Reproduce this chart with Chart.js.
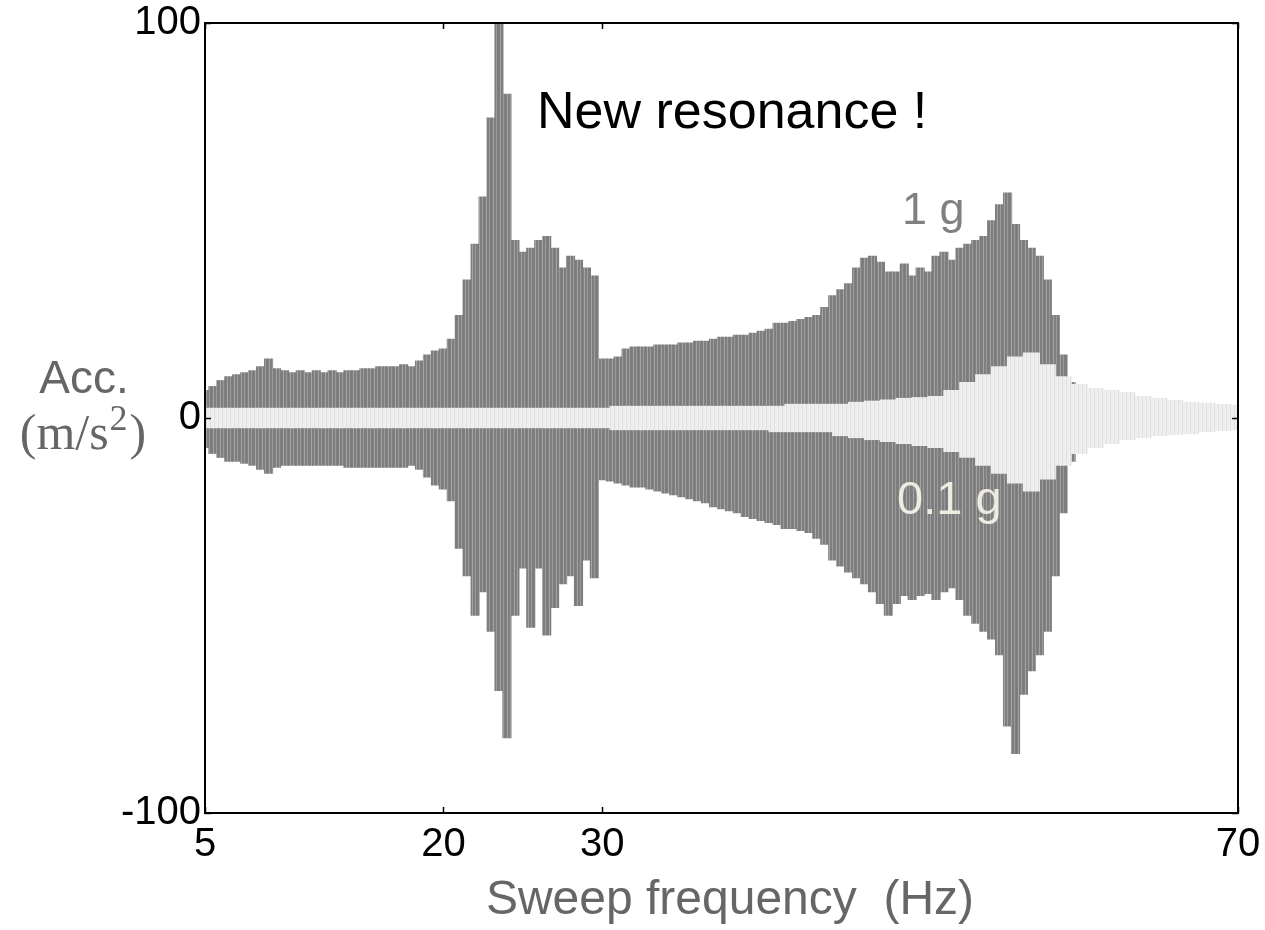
<!DOCTYPE html>
<html>
<head>
<meta charset="utf-8">
<script src="https://cdn.jsdelivr.net/npm/chart.js@4/dist/chart.umd.min.js"></script>
<style>
  body { margin: 0; background: #fff; }
  #sweepChart { display: block; }
</style>
</head>
<body>
<canvas id="sweepChart" width="1265" height="930"></canvas>
<script>
// 1 g sweep: envelope read every 0.5 Hz (stops near 59.5 Hz)
const freq1g = [
  5, 5.5, 6, 6.5, 7, 7.5, 8, 8.5, 9, 9.5,
  10, 10.5, 11, 11.5, 12, 12.5, 13, 13.5, 14, 14.5,
  15, 15.5, 16, 16.5, 17, 17.5, 18, 18.5, 19, 19.5,
  20, 20.5, 21, 21.5, 22, 22.5, 23, 23.5, 24, 24.5,
  25, 25.5, 26, 26.5, 27, 27.5, 28, 28.5, 29, 29.5,
  30, 30.5, 31, 31.5, 32, 32.5, 33, 33.5, 34, 34.5,
  35, 35.5, 36, 36.5, 37, 37.5, 38, 38.5, 39, 39.5,
  40, 40.5, 41, 41.5, 42, 42.5, 43, 43.5, 44, 44.5,
  45, 45.5, 46, 46.5, 47, 47.5, 48, 48.5, 49, 49.5,
  50, 50.5, 51, 51.5, 52, 52.5, 53, 53.5, 54, 54.5,
  55, 55.5, 56, 56.5, 57, 57.5, 58, 58.5, 59, 59.5
];
const hi1g = [
  7, 8, 9.5, 10.5, 11, 11.5, 12, 13, 15, 12.5,
  12, 11.5, 12, 11.5, 12, 11.5, 12, 11.5, 12, 12,
  12.5, 12.5, 13, 13, 13, 13.5, 13, 14.5, 16, 17,
  17.5, 20, 26, 35, 44, 56, 76, 100, 82, 45,
  42, 43, 45, 46, 43, 38, 41, 40, 38, 36,
  15, 15, 15.5, 17.5, 18, 18, 18, 18.5, 18.5, 18.5,
  19, 19, 19.5, 19.5, 20, 20.5, 20.5, 21, 21, 21.5,
  22, 22.5, 24, 24, 24.5, 25, 25.5, 26, 28, 31,
  32.5, 34, 38, 40.5, 41, 39.5, 37, 37, 39, 36,
  38, 37, 41, 42, 40, 43, 44, 45, 46, 50,
  54, 57, 49, 45, 43, 41, 35, 26, 16, 9
];
const lo1g = [
  -7.5, -9, -10, -11, -11, -11.5, -12, -13, -14, -12.5,
  -12, -12, -12, -12, -12, -12, -12, -12, -12.5, -12.5,
  -12.5, -12.5, -12.5, -12.5, -12.5, -12.5, -12, -13, -15, -17,
  -18, -21, -33, -40, -50, -44, -54, -69, -81, -50,
  -38, -53, -38, -55, -48, -42, -40, -47.5, -36, -40.5,
  -15.7, -16, -16.5, -17, -17.5, -17.5, -18, -18.5, -19, -19.5,
  -20, -20.5, -21, -21.5, -22.5, -23, -23.5, -24, -25, -25.5,
  -26, -26.5, -27, -28, -28, -28.5, -29, -30.5, -32, -36,
  -37.5, -39, -40.5, -42, -44, -47, -50, -47, -45, -46,
  -45, -44.5, -46, -44, -43, -46, -50, -52, -54, -56,
  -60, -78, -85, -70, -64, -60, -54, -40, -24, -11
];

// 0.1 g sweep: envelope read every 1 Hz
const freq01g = [
  5, 6, 7, 8, 9, 10, 11, 12, 13, 14, 15, 16, 17, 18, 19, 20, 21, 22, 23, 24, 25, 26,
  27, 28, 29, 30, 31, 32, 33, 34, 35, 36, 37, 38, 39, 40, 41, 42, 43, 44, 45, 46, 47, 48,
  49, 50, 51, 52, 53, 54, 55, 56, 57, 58, 59, 60, 61, 62, 63, 64, 65, 66, 67, 68, 69, 70
];
const hi01g = [
  2.5, 2.5, 2.5, 2.5, 2.5, 2.5, 2.5, 2.5, 2.5, 2.5, 2.5, 2.5, 2.5, 2.5, 2.5, 2.5, 2.5, 2.5, 2.5, 2.5, 2.5, 2.5,
  2.5, 2.5, 2.5, 2.5, 3, 3, 3, 3, 3, 3, 3, 3, 3, 3, 3, 3.5, 3.5, 3.5, 3.5, 4, 4.3, 4.6,
  5, 5.2, 5.5, 7, 9, 11, 13, 15.5, 16.5, 13.5, 10.5, 8.5, 7.5, 7, 6.5, 5.5, 5, 4.5, 4, 3.8, 3.5, 3.3
];
const lo01g = [
  -2.5, -2.5, -2.5, -2.5, -2.5, -2.5, -2.5, -2.5, -2.5, -2.5, -2.5, -2.5, -2.5, -2.5, -2.5, -2.5, -2.5, -2.5, -2.5, -2.5, -2.5, -2.5,
  -2.5, -2.5, -2.5, -2.5, -3, -3, -3, -3, -3, -3, -3, -3, -3, -3, -3.5, -3.5, -3.5, -3.5, -4.5, -5, -5.5, -6,
  -6.5, -7, -7.5, -8.5, -10, -12, -14, -16.5, -18.5, -15.5, -12, -9, -7.5, -6.5, -5.5, -5, -4.5, -4.2, -4, -3.5, -3.2, -3
];

const xTickValues = [5, 20, 30, 70];
const yTickValues = [-100, 0, 100];

document.addEventListener("DOMContentLoaded", function () {
  const canvas = document.getElementById("sweepChart");
  const ctx = canvas.getContext("2d");

  // thin vertical stripes so the bars read like a dense time trace
  function stripes(colors) {
    const c = document.createElement("canvas");
    c.width = colors.length;
    c.height = 1;
    const g = c.getContext("2d");
    colors.forEach(function (col, i) {
      g.fillStyle = col;
      g.fillRect(i, 0, 1, 1);
    });
    return ctx.createPattern(c, "repeat");
  }

  const darkFill = stripes(["#7f7f7f", "#7b7b7b", "#808080", "#a4a4a4", "#7d7d7d", "#7f7f7f", "#9a9a9a"]);
  const lightFill = stripes(["#eeeeee", "#f0f0f0", "#e0e0e0", "#efefef"]);

  const frameAndText = {
    id: "frameAndText",
    afterDatasetsDraw(chart) {
      const { ctx, chartArea: a, scales } = chart;
      ctx.save();
      ctx.strokeStyle = "#000";
      ctx.lineWidth = 2;
      ctx.strokeRect(a.left, a.top, a.right - a.left, a.bottom - a.top);

      ctx.lineWidth = 1.5;
      ctx.beginPath();
      xTickValues.forEach(function (v) {
        const px = Math.round(scales.x.getPixelForValue(v)) + 0.5;
        ctx.moveTo(px, a.bottom); ctx.lineTo(px, a.bottom - 6);
        ctx.moveTo(px, a.top); ctx.lineTo(px, a.top + 6);
      });
      yTickValues.forEach(function (v) {
        const py = Math.round(scales.y.getPixelForValue(v)) + 0.5;
        ctx.moveTo(a.left, py); ctx.lineTo(a.left + 6, py);
        ctx.moveTo(a.right, py); ctx.lineTo(a.right - 6, py);
      });
      ctx.stroke();

      ctx.textBaseline = "alphabetic";
      ctx.textAlign = "left";
      ctx.fillStyle = "#000";
      ctx.font = "52px 'Liberation Sans', Arial, sans-serif";
      ctx.fillText("New resonance !", 537, 128);

      ctx.font = "45px 'Liberation Sans', Arial, sans-serif";
      ctx.fillStyle = "#808080";
      ctx.fillText("1 g", 902, 224);
      ctx.font = "47px 'Liberation Sans', Arial, sans-serif";
      ctx.fillStyle = "#eeebe0";
      ctx.fillText("0.1 g", 897, 514);

      ctx.textAlign = "center";
      ctx.fillStyle = "#666";
      ctx.font = "48px 'Liberation Sans', Arial, sans-serif";
      ctx.fillText("Sweep frequency  (Hz)", 730, 914);
      ctx.font = "46px 'Liberation Sans', Arial, sans-serif";
      ctx.fillText("Acc.", 84, 393);

      // (m/s²) with a raised 2, serif like the math font of the original
      ctx.textAlign = "left";
      const big = "50px 'Liberation Serif', 'DejaVu Serif', serif";
      const small = "36px 'Liberation Serif', 'DejaVu Serif', serif";
      ctx.font = big;
      const w1 = ctx.measureText("(m/s").width;
      const w3 = ctx.measureText(")").width;
      ctx.font = small;
      const w2 = ctx.measureText("2").width + 3;
      let x0 = 83 - (w1 + w2 + w3) / 2;
      ctx.font = big;
      ctx.fillText("(m/s", x0, 449);
      ctx.font = small;
      ctx.fillText("2", x0 + w1 + 1, 430);
      ctx.font = big;
      ctx.fillText(")", x0 + w1 + w2, 449);
      ctx.restore();
    },
  };

  const sweepChartConfig = {
    type: "bar",
    data: {
      datasets: [
        {
          label: "0.1 g",
          data: freq01g.map(function (f, i) { return { x: f, y: [lo01g[i], hi01g[i]] }; }),
          backgroundColor: lightFill,
          barThickness: 16.5,
          grouped: false,
          order: 1,
        },
        {
          label: "1 g",
          data: freq1g.map(function (f, i) { return { x: f, y: [lo1g[i], hi1g[i]] }; }),
          backgroundColor: darkFill,
          barThickness: 8.5,
          grouped: false,
          order: 2,
        },
      ],
    },
    options: {
      responsive: false,
      animation: false,
      layout: { padding: { left: 0, top: 23, right: 27, bottom: 0 } },
      plugins: {
        legend: { display: false },
        tooltip: { enabled: false },
      },
      scales: {
        x: {
          type: "linear",
          min: 5,
          max: 70,
          offset: false,
          grid: { display: false, drawTicks: false },
          border: { display: false },
          afterBuildTicks: function (scale) {
            scale.ticks = xTickValues.map(function (v) { return { value: v }; });
          },
          afterFit: function (scale) {
            scale.height = 117;
            scale.paddingLeft = 0;
            scale.paddingRight = 0;
          },
          ticks: {
            color: "#000",
            padding: 8,
            maxRotation: 0,
            autoSkip: false,
            font: { family: "'Liberation Sans', Arial, sans-serif", size: 40 },
          },
        },
        y: {
          min: -100,
          max: 100,
          grid: { display: false, drawTicks: false },
          border: { display: false },
          afterBuildTicks: function (scale) {
            scale.ticks = yTickValues.map(function (v) { return { value: v }; });
          },
          afterFit: function (scale) {
            scale.width = 205;
            scale.paddingTop = 0;
            scale.paddingBottom = 0;
          },
          ticks: {
            color: "#000",
            padding: 4,
            autoSkip: false,
            font: { family: "'Liberation Sans', Arial, sans-serif", size: 40 },
          },
        },
      },
    },
    plugins: [frameAndText],
  };

  new Chart(ctx, sweepChartConfig);
});
</script>
</body>
</html>
